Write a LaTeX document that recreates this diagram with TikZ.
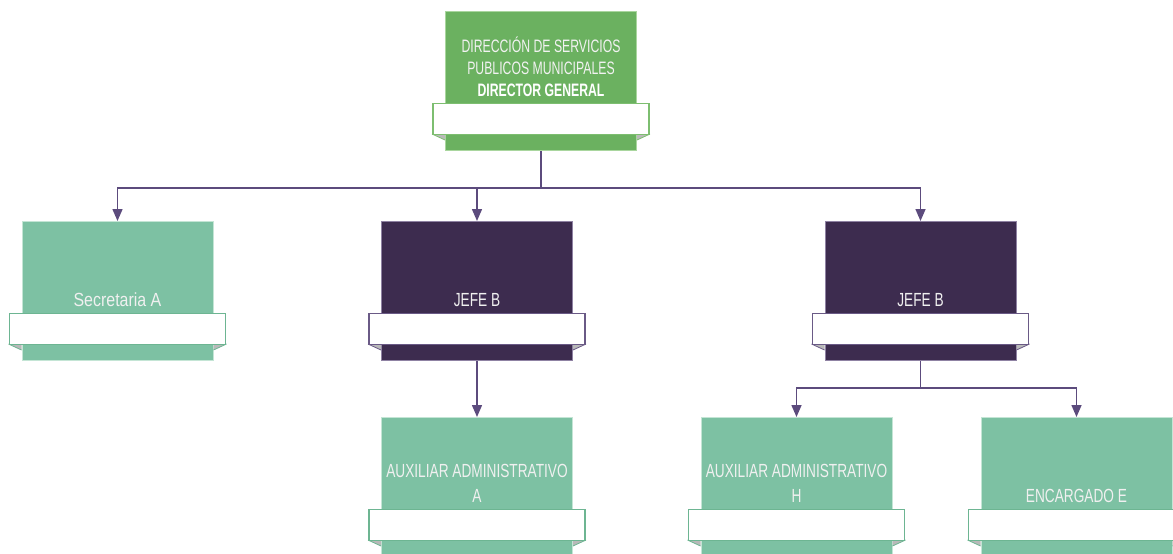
\documentclass[tikz,border=0pt]{standalone}
\usepackage{fontspec}
\setmainfont{Liberation Sans}
\newfontfamily\boxfont[FakeStretch=0.72]{Liberation Sans}
\newfontfamily\boxfontwide[FakeStretch=0.84]{Liberation Sans}
\newfontfamily\headfont[FakeStretch=0.68]{Liberation Sans}
\usetikzlibrary{arrows.meta,calc}

\definecolor{orggreen}{HTML}{6BB160}
\definecolor{orggreenedge}{HTML}{A9D69E}
\definecolor{orggreenbar}{HTML}{7DBE70}
\definecolor{orgteal}{HTML}{7DC1A3}
\definecolor{orgtealedge}{HTML}{C4E5D5}
\definecolor{orgtealbar}{HTML}{6DB592}
\definecolor{orgpurple}{HTML}{3D2C4F}
\definecolor{orgpurpleedge}{HTML}{8F82A3}
\definecolor{orgpurplebar}{HTML}{6A5A86}
\definecolor{orgline}{HTML}{5C4B7D}
\definecolor{orgfold}{HTML}{B9B9B9}

\tikzset{
  unitbox/.style={minimum width=191pt, minimum height=139pt, inner sep=0pt,
    line width=1pt, anchor=north},
  barbox/.style={minimum width=216pt, minimum height=31pt, inner sep=0pt,
    line width=1.2pt, fill=white, anchor=north},
  unittext/.style={anchor=south, inner sep=0pt, align=center,
    text=white!88!gray, font=\boxfont\fontsize{19}{25}\selectfont},
  unittextwide/.style={unittext, font=\boxfontwide\fontsize{19}{25}\selectfont},
  headtext/.style={anchor=south, inner sep=0pt, align=center,
    text=white!90!gray, font=\headfont\fontsize{18}{22}\selectfont},
  conn/.style={draw=orgline, line width=1.5pt,
    -{Triangle[length=12pt,width=10pt]}},
}

% #1 name, #2 x, #3 y of top edge, #4 fill, #5 border, #6 bar border, #7 text style, #8 text
\newcommand\orgunit[8]{%
  \node[unitbox, fill=#4, draw=#5] (#1) at (#2,#3) {};
  \fill[orgfold] ($(#1.north west)+(-13,123)$) -- ($(#1.north west)+(0,123)$)
    -- ($(#1.north west)+(0,129)$) -- cycle;
  \fill[orgfold] ($(#1.north east)+(13,123)$) -- ($(#1.north east)+(0,123)$)
    -- ($(#1.north east)+(0,129)$) -- cycle;
  \draw[#6, line width=0.8pt] ($(#1.north west)+(-13,123)$) -- ($(#1.north west)+(0,129)$);
  \draw[#6, line width=0.8pt] ($(#1.north east)+(13,123)$) -- ($(#1.north east)+(0,129)$);
  \node[barbox, draw=#6] (#1-bar) at ($(#1.north)+(0,92)$) {};
  \node[#7] (#1-label) at ($(#1-bar.north)+(0,-6)$) {#8};
}

\begin{document}
\begin{tikzpicture}[x=1pt,y=-1pt]
  \useasboundingbox (0,0) rectangle (1173,554);
  \clip (0,0) rectangle (1173,554);

  % head of the department
  \orgunit{dir}{541}{11}{orggreen}{orggreenedge}{orggreenbar}{headtext}%
    {DIRECCIÓN DE SERVICIOS\\PUBLICOS MUNICIPALES\\\textbf{\color{white}DIRECTOR GENERAL}}

  % second level
  \orgunit{sec}{117.5}{221}{orgteal}{orgtealedge}{orgtealbar}{unittextwide}{Secretaria A}
  \orgunit{jefeA}{477}{221}{orgpurple}{orgpurpleedge}{orgpurplebar}{unittext}{JEFE B}
  \orgunit{jefeB}{920.5}{221}{orgpurple}{orgpurpleedge}{orgpurplebar}{unittext}{JEFE B}

  % third level
  \orgunit{auxA}{477}{417}{orgteal}{orgtealedge}{orgtealbar}{unittext}{AUXILIAR ADMINISTRATIVO\\A}
  \orgunit{auxH}{796.5}{417}{orgteal}{orgtealedge}{orgtealbar}{unittext}{AUXILIAR ADMINISTRATIVO\\H}
  \orgunit{enc}{1076.5}{417}{orgteal}{orgtealedge}{orgtealbar}{unittext}{ENCARGADO E}

  % connectors
  \coordinate (dir-split) at (541,188);
  \coordinate (jefeB-split) at (920.5,388);
  \draw[conn] (dir.south) -- (dir-split) -| (sec.north);
  \draw[conn] (dir-split) -| (jefeA.north);
  \draw[conn] (dir-split) -| (jefeB.north);
  \draw[conn] (jefeA.south) -- (auxA.north);
  \draw[conn] (jefeB.south) -- (jefeB-split) -| (auxH.north);
  \draw[conn] (jefeB-split) -| (enc.north);
\end{tikzpicture}
\end{document}
